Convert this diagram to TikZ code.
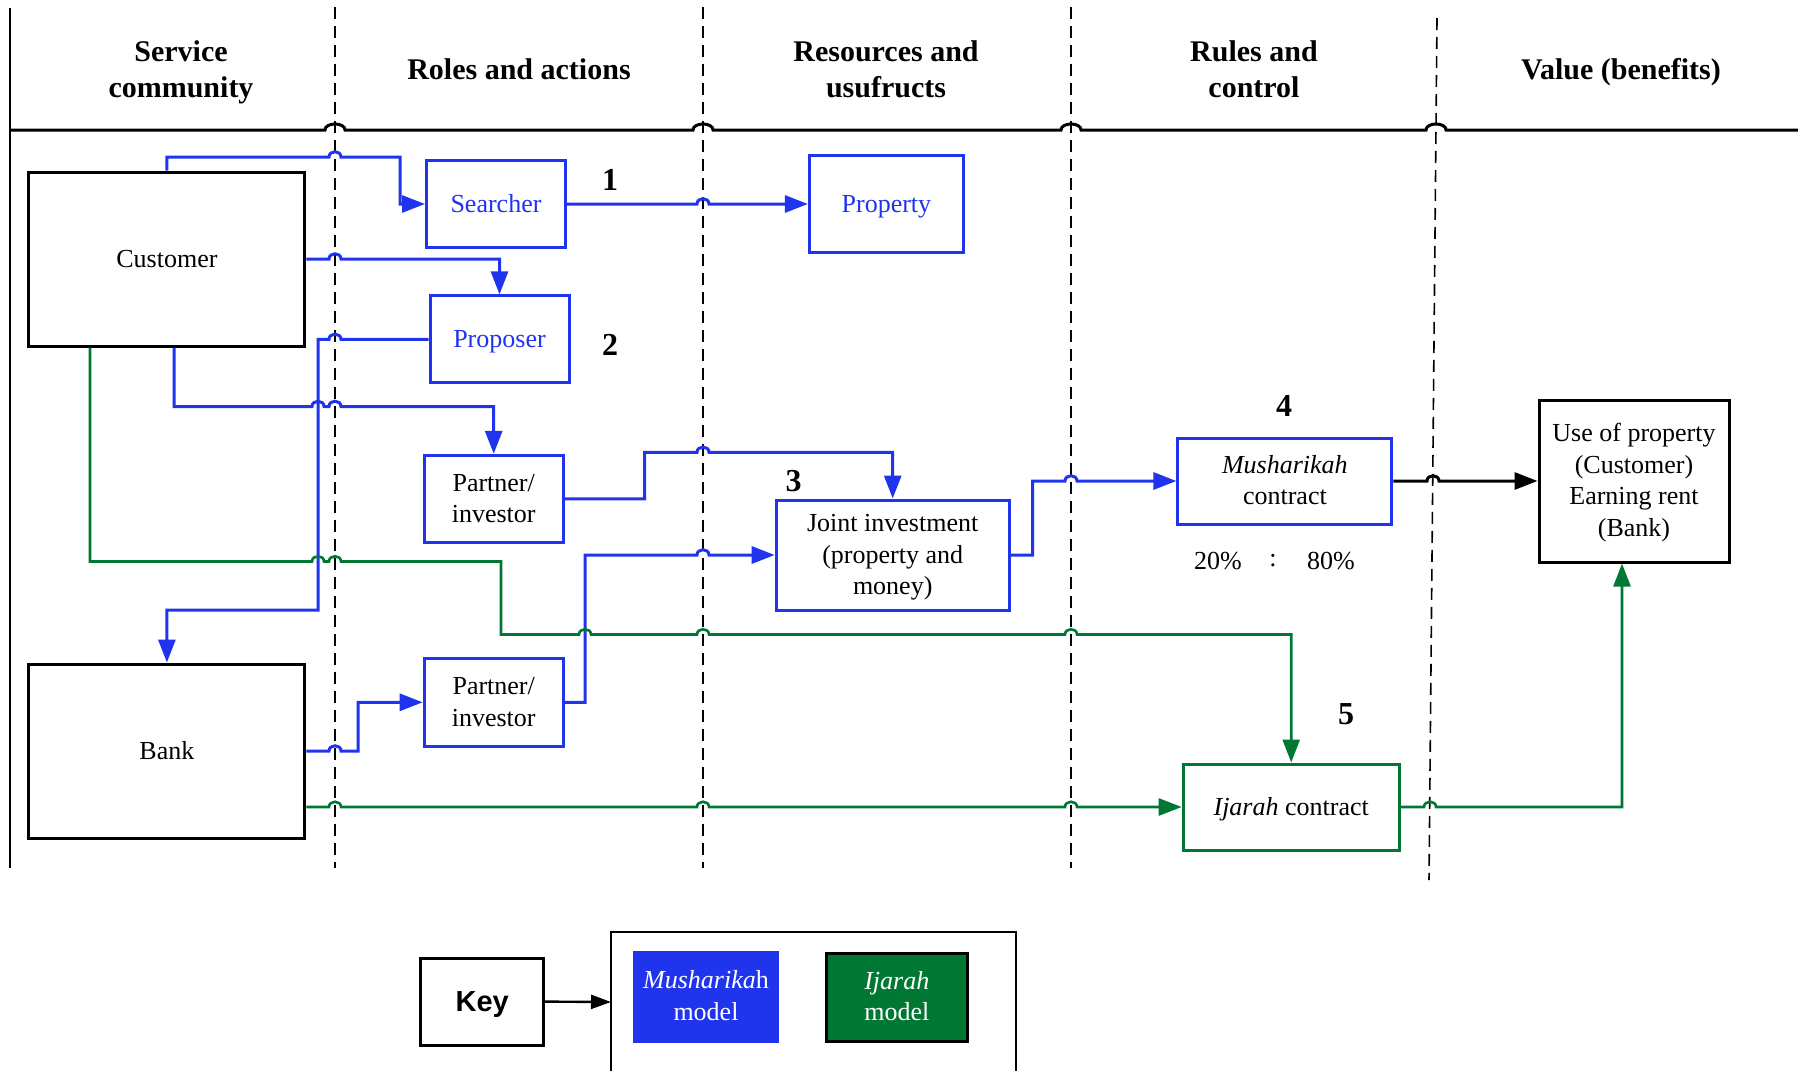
\documentclass[tikz,border=0pt]{standalone}
\usepackage{fontspec}
\setmainfont{Liberation Serif}
\newfontfamily\keyfont{Liberation Sans}
\usetikzlibrary{arrows.meta}
\definecolor{mblue}{RGB}{32,52,238}
\definecolor{igreen}{RGB}{0,120,52}

% small hop where a horizontal connector crosses another line
\newcommand\hopr[2]{-- ({#1-6},#2) .. controls +(0,-7) and +(0,-7) .. ({#1+6},#2)}
\newcommand\hopl[2]{-- ({#1+6},#2) .. controls +(0,-7) and +(0,-7) .. ({#1-6},#2)}
\newcommand\bighop[2]{-- ({#1-10},#2) .. controls +(0,-8) and +(0,-8) .. ({#1+10},#2)}
% box text: centred lines on a fixed baseline grid, set slightly low
\newcommand\tb[1]{\raisebox{-0.85pt}[\height][\depth]{\begin{tabular}{@{}c@{}}#1\end{tabular}}}

\begin{document}
\begin{tikzpicture}[x=0.5pt,y=-0.5pt,
  box/.style={draw, line width=1.5pt, inner sep=0pt,
    font=\fontsize{13}{15.75}\selectfont},
  bbox/.style={box, draw=mblue},
  gbox/.style={box, draw=igreen},
  head/.style={align=center, font=\fontsize{15}{18}\selectfont\bfseries},
  num/.style={font=\fontsize{16}{18}\selectfont\bfseries},
  ratio/.style={font=\fontsize{13}{15.5}\selectfont},
  bline/.style={draw=mblue, line width=1.5pt},
  gline/.style={draw=igreen, line width=1.3pt},
  kline/.style={draw=black, line width=1.5pt},
  tip/.style={-{Triangle[length=11.5pt,width=8.5pt]}},
  lane/.style={line width=0.8pt, dash pattern=on 6pt off 3.5pt}]

\useasboundingbox (0,0) rectangle (1798,1071);

% lane frame
\draw[line width=1.2pt] (10,8) -- (10,868);
\draw[line width=1.5pt] (10,130) \bighop{335}{130} \bighop{703}{130}
  \bighop{1071}{130} \bighop{1436}{130} -- (1798,130);
\draw[lane] (335,7) -- (335,868);
\draw[lane] (703,7) -- (703,868);
\draw[lane] (1071,7) -- (1071,868);
\draw[lane] (1437,18) -- (1429,880);

% lane headings
\node[head] (h1) at (181,72.5) {Service\\community};
\node[head] (h2) at (519,69) {Roles and actions};
\node[head] (h3) at (886,69) {Resources and\\usufructs};
\node[head] (h4) at (1254,69) {Rules and\\control};
\node[head] (h5) at (1621,72.5) {Value (benefits)};

% boxes
\node[box, minimum width=138pt, minimum height=87pt] (customer) at (166.9,259) {\tb{Customer}};
\node[box, minimum width=138pt, minimum height=87pt] (bank) at (166.9,751) {\tb{Bank}};
\node[bbox, text=mblue, minimum width=69.5pt, minimum height=43.5pt] (searcher) at (496,204) {\tb{Searcher}};
\node[bbox, text=mblue, minimum width=77pt, minimum height=48.5pt] (property) at (886.4,204) {\tb{Property}};
\node[bbox, text=mblue, minimum width=69.5pt, minimum height=43.5pt] (proposer) at (499.5,339.4) {\tb{Proposer}};
\node[bbox, minimum width=69.5pt, minimum height=43.5pt] (partA) at (493.7,498.8) {\tb{Partner/\\investor}};
\node[bbox, minimum width=69.5pt, minimum height=44pt] (partB) at (493.7,702.3) {\tb{Partner/\\investor}};
\node[bbox, minimum width=116.5pt, minimum height=55pt] (joint) at (892.7,555) {\tb{Joint investment\\(property and\\money)}};
\node[bbox, minimum width=107pt, minimum height=43pt] (mush) at (1284.9,481) {\tb{\textit{Musharikah}\\contract}};
\node[gbox, minimum width=108pt, minimum height=43pt] (ijarah) at (1291.2,807) {\tb{\textit{Ijarah} contract}};
\node[box, minimum width=95pt, minimum height=81pt] (use) at (1634,481) {\tb{Use of property\\(Customer)\\Earning rent\\(Bank)}};

% step numbers and share ratio
\node[num] (n1) at (610,180) {1};
\node[num] (n2) at (610,345) {2};
\node[num] (n3) at (793.5,481) {3};
\node[num] (n4) at (1284,406) {4};
\node[num] (n5) at (1346,714) {5};
\node[ratio] (r1) at (1218,561) {20\%};
\node[ratio] (r2) at (1273,561) {:};
\node[ratio] (r3) at (1331,561) {80\%};

% Musharikah connectors
\draw[bline,tip] (customer.north) -- (166.9,157) \hopr{335}{157} -- (400,157) -- (400,204) -- (searcher.west);
\draw[bline,tip] (searcher.east) \hopr{703}{204} -- (property.west);
\draw[bline,tip] (customer.east) \hopr{335}{259} -- (499.5,259) -- (proposer.north);
\draw[bline,tip] (proposer.west) \hopl{335}{339.4} -- (318,339.4) -- (318,610) -- (166.9,610) -- (bank.north);
\draw[bline,tip] ([xshift=3.55pt]customer.south) -- (174,406.5) \hopr{318}{406.5} \hopr{335}{406.5} -- (493.7,406.5) -- (partA.north);
\draw[bline,tip] (partA.east) -- (644.7,498.8) -- (644.7,452.3) \hopr{703}{452.3} -- (892.7,452.3) -- (joint.north);
\draw[bline,tip] (bank.east) \hopr{335}{751} -- (358,751) -- (358,702.3) -- (partB.west);
\draw[bline,tip] (partB.east) -- (585,702.3) -- (585,555) \hopr{703}{555} -- (joint.west);
\draw[bline,tip] (joint.east) -- (1032.6,555) -- (1032.6,481) \hopr{1071}{481} -- (mush.west);
\draw[kline,tip] (mush.east) \hopr{1433}{481} -- (use.west);

% Ijarah connectors
\draw[gline,tip] ([xshift=-38.45pt]customer.south) -- (90,561.5) \hopr{318}{561.5} \hopr{335}{561.5}
  -- (501,561.5) -- (501,634.5) \hopr{585}{634.5} \hopr{703}{634.5} \hopr{1071}{634.5}
  -- (1291.2,634.5) -- (ijarah.north);
\draw[gline,tip] ([yshift=-28pt]bank.east) \hopr{335}{807} \hopr{703}{807} \hopr{1071}{807} -- (ijarah.west);
\draw[gline,tip] (ijarah.east) \hopr{1430}{807} -- (1622,807) -- ([xshift=-6pt]use.south);

% key
\node[draw, line width=1.5pt, inner sep=0pt, minimum width=61.5pt, minimum height=43.5pt,
  font=\keyfont\fontsize{14.5}{16}\selectfont\bfseries] (key) at (482.2,1001.6) {\rule[-3pt]{0pt}{15.7pt}Key};
\draw[line width=1.2pt] (611,1071) -- (611,932) -- (1016,932) -- (1016,1071);
\coordinate (legin) at (611,1002);
\draw[kline,line width=1.2pt,-{Triangle[length=10pt,width=7pt]}] (key.east) -- (legin);
\node[box, draw=mblue, fill=mblue, text=white, minimum width=71.5pt, minimum height=44.5pt] (musModel) at (706,996.5) {\tb{\textit{Musharika}h\\model}};
\node[box, fill=igreen, text=white, minimum width=70.5pt, minimum height=44pt] (ijaModel) at (896.8,997) {\tb{\textit{Ijarah}\\model}};
\end{tikzpicture}
\end{document}
